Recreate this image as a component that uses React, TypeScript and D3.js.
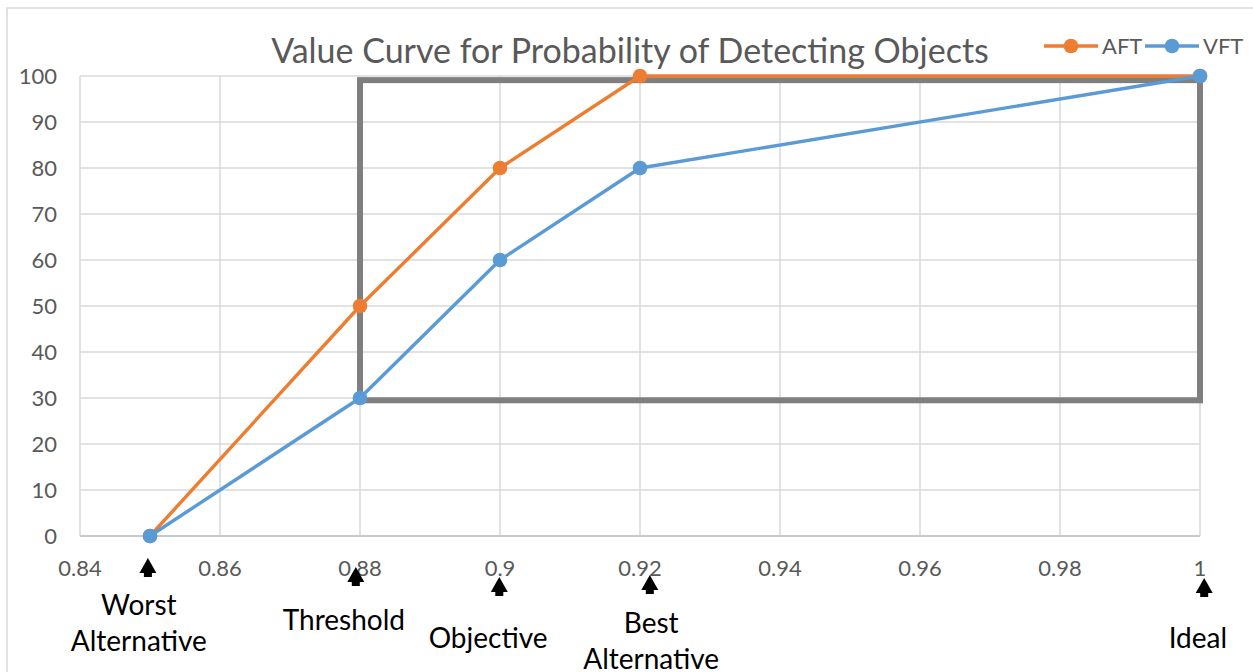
import React from "react";
import * as d3 from "d3";

const xTicks = [0.84, 0.86, 0.88, 0.9, 0.92, 0.94, 0.96, 0.98, 1];
const yTicks = [0, 10, 20, 30, 40, 50, 60, 70, 80, 90, 100];
const xPoints = [0.85, 0.88, 0.9, 0.92, 1.0];
const aftValues = [0, 50, 80, 100, 100];
const vftValues = [0, 30, 60, 80, 100];
const seriesNames = ["AFT", "VFT"];
const boxX = [0.88, 1.0];
const boxY = [29.5, 99.1];
const markerNames = [["Worst", "Alternative"], ["Threshold"], ["Objective"], ["Best", "Alternative"], ["Ideal"]];
const markerX = [0.8497, 0.8794, 0.8999, 0.9214, 1.0006];
const labelX = [0.8484, 0.8777, 0.8983, 0.9216, 0.9997];
const arrowTop = [558, 567, 577, 575, 578];
const labelBaseline = [615, 630, 648, 633, 648];

const W = 1253, H = 672;
const M = { left: 80, right: 53, top: 76, bottom: 135 };
const ORANGE = "#ED7D31";
const BLUE = "#5B9BD5";
const FONT = "Lato, 'Open Sans', sans-serif";

export default function App() {
  const x = d3.scaleLinear().domain([0.84, 1]).range([M.left, W - M.right]);
  const y = d3.scaleLinear().domain([0, 100]).range([H - M.bottom - 1, M.top]);
  const line = d3.line<[number, number]>().x(d => x(d[0])).y(d => y(d[1]));
  const series = [
    { name: seriesNames[0], color: ORANGE, pts: xPoints.map((v, i) => [v, aftValues[i]] as [number, number]) },
    { name: seriesNames[1], color: BLUE, pts: xPoints.map((v, i) => [v, vftValues[i]] as [number, number]) },
  ];
  const legendX = [1044, 1145];
  return (
    <svg width={W} height={H} style={{ position: "absolute", left: 0, top: 0, background: "#fff" }} fontFamily={FONT}>
      <rect x={7} y={8} width={W + 10} height={H + 10} fill="#fff" stroke="#d9d9d9" strokeWidth={1.5} />
      {yTicks.map(t => (
        <line key={"gy" + t} x1={x(0.84)} x2={x(1)} y1={y(t)} y2={y(t)} stroke="#d9d9d9" strokeWidth={1.5} />
      ))}
      {xTicks.map(t => (
        <line key={"gx" + t} x1={x(t)} x2={x(t)} y1={y(0)} y2={y(100)} stroke="#d9d9d9" strokeWidth={1.5} />
      ))}
      <line x1={x(0.84)} x2={x(1)} y1={y(0)} y2={y(0)} stroke="#bfbfbf" strokeWidth={1.5} />
      {yTicks.map(t => (
        <text key={"ty" + t} x={57} y={y(t)} dy="0.36em" textAnchor="end" fontSize={22} fill="#595959">{t}</text>
      ))}
      {xTicks.map(t => (
        <text key={"tx" + t} x={x(t)} y={576} textAnchor="middle" fontSize={22} fill="#595959">{String(t)}</text>
      ))}
      <text x={630} y={63} textAnchor="middle" fontSize={34} fill="#595959">Value Curve for Probability of Detecting Objects</text>
      <rect x={x(boxX[0])} y={y(boxY[1])} width={x(boxX[1]) - x(boxX[0])} height={y(boxY[0]) - y(boxY[1])} fill="none" stroke="#7f7f7f" strokeWidth={6} />
      {series.map(s => (
        <g key={s.name}>
          <path d={line(s.pts) || ""} fill="none" stroke={s.color} strokeWidth={3.4} strokeLinejoin="round" />
          {s.pts.map((p, i) => (
            <circle key={i} cx={x(p[0])} cy={y(p[1])} r={7.3} fill={s.color} />
          ))}
        </g>
      ))}
      {series.map((s, i) => (
        <g key={"lg" + s.name}>
          <line x1={legendX[i]} x2={legendX[i] + 54} y1={46} y2={46} stroke={s.color} strokeWidth={3.4} />
          <circle cx={legendX[i] + 27} cy={46} r={7.3} fill={s.color} />
          <text x={legendX[i] + 58} y={54} fontSize={22} fill="#595959">{s.name}</text>
        </g>
      ))}
      {markerX.map((mx, i) => {
        const cx = x(mx);
        const t = arrowTop[i];
        return (
          <g key={"ar" + i}>
            <path d={`M${cx},${t} L${cx + 8.5},${t + 15} L${cx - 8.5},${t + 15} Z`} fill="#000" />
            <rect x={cx - 4} y={t + 14} width={8} height={5} fill="#000" />
          </g>
        );
      })}
      {markerNames.map((lines, i) => (
        <text key={"lb" + i} x={x(labelX[i])} y={labelBaseline[i]} textAnchor="middle" fontSize={28} fill="#000">
          {lines.map((ln, j) => (
            <tspan key={j} x={x(labelX[i])} dy={j === 0 ? 0 : 36}>{ln}</tspan>
          ))}
        </text>
      ))}
    </svg>
  );
}
